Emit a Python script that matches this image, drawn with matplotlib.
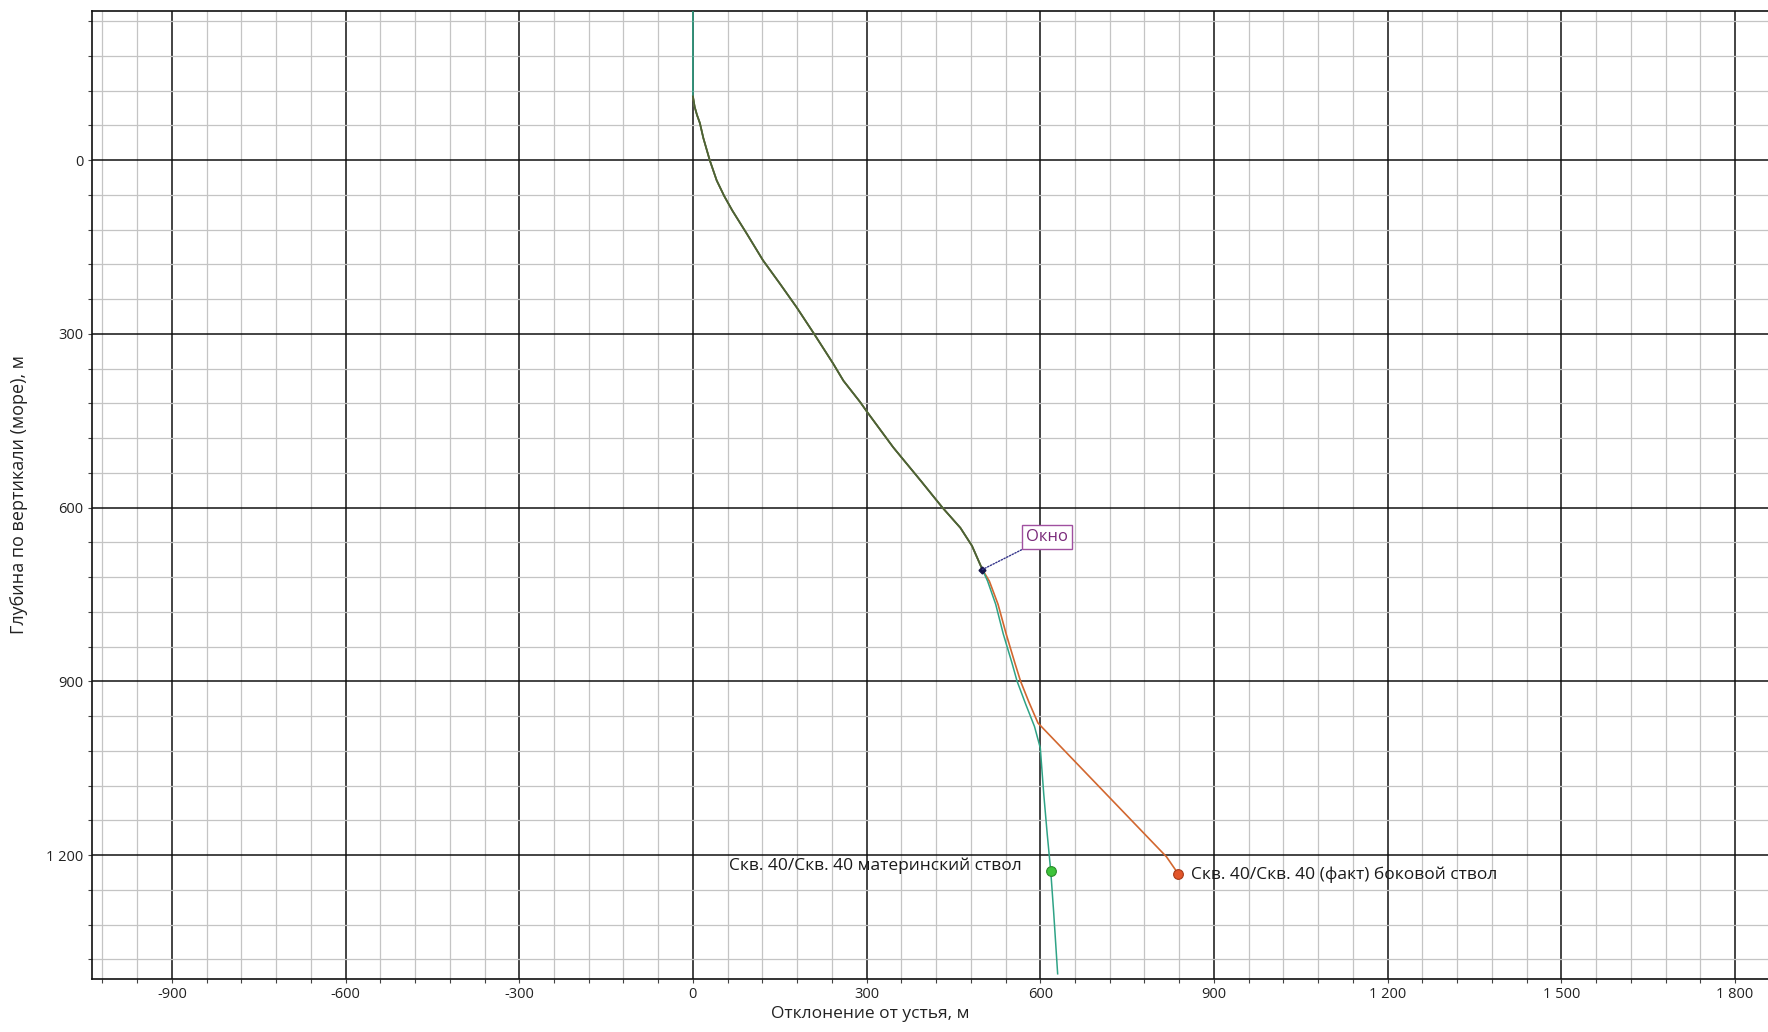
import matplotlib
matplotlib.use('Agg')
import matplotlib.pyplot as plt
from matplotlib.ticker import MultipleLocator, FuncFormatter

plt.rcParams['font.family'] = ['Open Sans', 'DejaVu Sans']

# ---- data (horizontal offset, m ; vertical depth (sea), m) ----
mother_x = [0, 0, 3, 7, 12, 18, 29, 41, 54, 68, 93, 121, 150, 179, 208, 242, 260, 289, 301, 346, 393, 431,
            462, 482, 500, 509, 523, 536, 551, 560, 575, 590, 600, 606, 612, 618, 623, 630]
mother_d = [-258, -110, -92, -78, -64, -38, 0, 35, 62, 87, 127, 173, 213, 254, 298, 351, 381, 418, 435, 496, 553, 600,
            635, 666, 707, 727, 767, 818, 868, 900, 940, 978, 1015, 1095, 1164, 1227, 1297, 1405]

side_x = [0, 3, 7, 12, 18, 29, 41, 54, 68, 93, 121, 150, 179, 208, 242, 260, 289, 301, 346, 393, 431,
          462, 482, 500, 512, 527, 541, 556, 566, 580, 596, 818, 838]
side_d = [-110, -92, -78, -64, -38, 0, 35, 62, 87, 127, 173, 213, 254, 298, 351, 381, 418, 435, 496, 553, 600,
          635, 666, 707, 727, 767, 818, 868, 900, 935, 972, 1203, 1232]

mother_end = (618, 1227)
side_end = (838, 1232)
window_pt = (500, 707)
window_label_pt = (611, 651)

mother_name = "Скв. 40/Скв. 40 материнский ствол"
side_name = "Скв. 40/Скв. 40 (факт) боковой ствол"
window_name = "Окно"

x_label = "Отклонение от устья, м"
y_label = "Глубина по вертикали (море), м"

# ---- figure ----
W, H = 1768, 1032
fig = plt.figure(figsize=(W / 100, H / 100), dpi=100)
ax_left, ax_right, ax_top, ax_bottom = 92, 1768, 10.7, 979
ax = fig.add_axes([ax_left / W, 1 - ax_bottom / H, (ax_right - ax_left) / W, (ax_bottom - ax_top) / H])
ax.set_xlim(-1038, 1857)
ax.set_ylim(1414, -258)

ax.xaxis.set_major_locator(MultipleLocator(300))
ax.xaxis.set_minor_locator(MultipleLocator(60))
ax.yaxis.set_major_locator(MultipleLocator(300))
ax.yaxis.set_minor_locator(MultipleLocator(60))


def fmt(v, pos):
    return f"{int(round(v)):,}".replace(",", " ")


ax.xaxis.set_major_formatter(FuncFormatter(fmt))
ax.yaxis.set_major_formatter(FuncFormatter(fmt))

ax.grid(which='minor', color='#c4c4c4', lw=0.9, zorder=0)
ax.grid(which='major', color='#111111', lw=1.1, zorder=0.5)
ax.set_axisbelow(True)

for s in ['left', 'top', 'bottom']:
    ax.spines[s].set_color('#111111')
    ax.spines[s].set_linewidth(1.2)
ax.spines['right'].set_visible(False)

ax.tick_params(which='both', direction='out', length=3, width=0.8, color='#444444',
               labelsize=10.5, labelcolor='#222222', pad=3)

# ---- trajectories ----
ax.plot(side_x, side_d, color='#d2672f', lw=1.2, zorder=3)
ax.plot(mother_x, mother_d, color='#2fa386', lw=1.1, zorder=4)
wi = side_d.index(window_pt[1]) + 1
ax.plot(side_x[:wi], side_d[:wi], color='#4f6133', lw=1.3, zorder=5)

ax.plot(*mother_end, 'o', ms=7, mfc='#3dc43a', mec='#2a8a2a', mew=0.8, zorder=6)
ax.plot(*side_end, 'o', ms=7, mfc='#e2552a', mec='#a83a18', mew=0.8, zorder=6)

ax.annotate(mother_name, mother_end, xytext=(-29, 5), textcoords='offset pixels',
            ha='right', va='center', fontsize=12.5, color='#1a1a1a', zorder=7)
ax.annotate(side_name, side_end, xytext=(13, -1), textcoords='offset pixels',
            ha='left', va='center', fontsize=12.5, color='#1a1a1a', zorder=7)

# window marker and label
ax.plot(*window_pt, marker='D', ms=3.5, color='#15154a', zorder=7)
ax.annotate(window_name, window_pt, xytext=window_label_pt, textcoords='data',
            ha='center', va='center', fontsize=12, color='#7a2a7a', zorder=8,
            bbox=dict(boxstyle='square,pad=0.25', fc='white', ec='#a050a0', lw=1.0),
            arrowprops=dict(arrowstyle='-', linestyle=(0, (1, 1.2)), color='#33338a', lw=1.0,
                            shrinkA=0, shrinkB=0))

ax.set_xlabel(x_label, fontsize=12.5, color='#222222')
ax.set_ylabel(y_label, fontsize=13, color='#222222')
ax.xaxis.set_label_coords((870 - ax_left) / (ax_right - ax_left), -0.028)
ax.yaxis.set_label_coords(-0.038, 0.5)

fig.savefig('out.png', dpi=100)
